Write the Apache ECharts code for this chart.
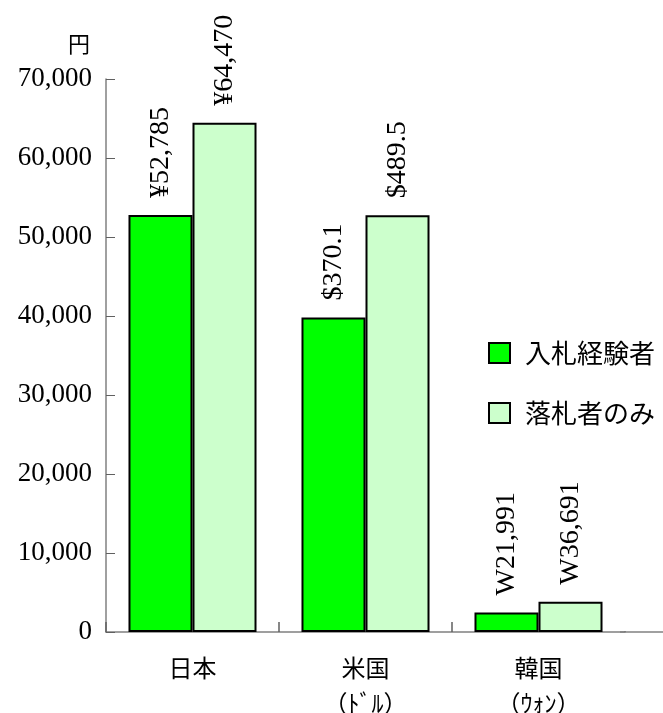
<!DOCTYPE html>
<html>
<head>
<meta charset="utf-8">
<script src="https://cdn.jsdelivr.net/npm/echarts@6/dist/echarts.min.js"></script>
<style>html,body{margin:0;padding:0;background:#fff}#c{width:663px;height:713px}</style>
</head>
<body>
<div id="c"></div>
<script>
const categories = ['日本', '米国\n（ﾄﾞﾙ）', '韓国\n（ｳｫﾝ）'];
const seriesNames = ['入札経験者', '落札者のみ'];
const bidders = [52785, 39800, 2480];
const winners = [64470, 52750, 3840];
const bidderLabels = ['¥52,785', '$370.1', 'W21,991'];
const winnerLabels = ['¥64,470', '$489.5', 'W36,691'];
const yTicks = [0, 10000, 20000, 30000, 40000, 50000, 60000, 70000];

const serif = '"Liberation Serif", "Times New Roman", serif';
const cjk = '"Noto Sans CJK JP", sans-serif';
const chart = echarts.init(document.getElementById('c'), null, { width: 663, height: 713 });

function mkLabel(texts) {
  return {
    show: true, position: 'top', rotate: 90, align: 'left', verticalAlign: 'middle',
    distance: 17, fontFamily: serif, fontSize: 28, color: '#000',
    formatter: p => texts[p.dataIndex]
  };
}

chart.setOption({
  animation: false,
  title: { text: '円', left: 63, top: 28, textStyle: { fontFamily: cjk, fontSize: 22, fontWeight: 'normal', color: '#000' } },
  legend: {
    orient: 'vertical', left: 483, top: 335, itemWidth: 21, itemHeight: 20, itemGap: 34, icon: 'rect',
    textStyle: { fontFamily: cjk, fontSize: 26, color: '#000', padding: [0, 0, 0, 10] },
    data: seriesNames
  },
  grid: { left: 106, width: 519, top: 79, height: 553, containLabel: false, outerBoundsMode: 'none' },
  xAxis: {
    type: 'category', data: categories,
    axisLine: { show: true, lineStyle: { color: '#808080', width: 1.5 } },
    axisTick: { show: true, inside: true, length: 10, lineStyle: { color: '#606060', width: 1.5 } },
    axisLabel: { fontFamily: cjk, fontSize: 24, lineHeight: 35, color: '#000', margin: 18 }
  },
  yAxis: {
    type: 'value', min: 0, max: 70000, interval: 10000,
    axisLine: { show: true, lineStyle: { color: '#808080', width: 1.5 } },
    axisTick: { show: true, inside: true, length: 9, lineStyle: { color: '#606060' } },
    splitLine: { show: false },
    axisLabel: {
      fontFamily: serif, fontSize: 27, color: '#000', margin: 14,
      formatter: v => yTicks.includes(v) ? v.toLocaleString('en-US') : ''
    }
  },
  graphic: [
    { type: 'rect', z: 100, shape: { x: 621, y: 619, width: 8, height: 12 }, style: { fill: '#fff' } },
    { type: 'line', z: 100, shape: { x1: 620, y1: 632, x2: 663, y2: 632 }, style: { stroke: '#808080', lineWidth: 1.5 } }
  ],
  series: [
    { name: seriesNames[0], type: 'bar', data: bidders, barGap: '0%', barCategoryGap: '26%',
      itemStyle: { color: '#00FF00', borderColor: '#000', borderWidth: 2 }, label: mkLabel(bidderLabels) },
    { name: seriesNames[1], type: 'bar', data: winners,
      itemStyle: { color: '#CCFFCC', borderColor: '#000', borderWidth: 2 }, label: mkLabel(winnerLabels) }
  ]
});
</script>
</body>
</html>
